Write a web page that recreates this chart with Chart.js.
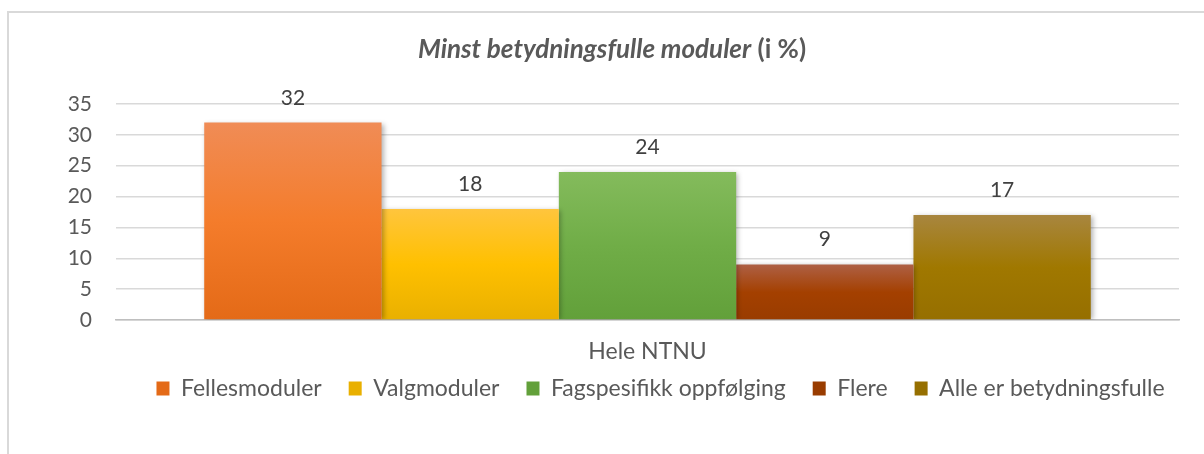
<!DOCTYPE html>
<html>
<head>
<meta charset="utf-8">
<script src="https://cdn.jsdelivr.net/npm/chart.js@4.4.1/dist/chart.umd.min.js"></script>
<style>
html, body { margin: 0; padding: 0; background: #fff; }
#frame { position: absolute; left: 7px; top: 11px; width: 1300px; height: 500px;
         border-left: 2px solid #d9d9d9; border-top: 2px solid #d9d9d9; }
#wrap { position: absolute; left: 0; top: 0; width: 1204px; height: 454px; }
</style>
</head>
<body>
<div id="frame"></div>
<div id="wrap"><canvas id="myChart" width="1204" height="454"></canvas></div>
<script>
// data
var categories = ["Hele NTNU"];
var seriesNames = ["Fellesmoduler", "Valgmoduler", "Fagspesifikk oppfølging", "Flere", "Alle er betydningsfulle"];
var seriesValues = [32, 18, 24, 9, 17];
var yTicks = [0, 5, 10, 15, 20, 25, 30, 35];

// top / middle / bottom of each bar's gradient
var barColors = [
    ['#f08c56', '#f47c2b', '#e46a17'],
    ['#ffc53d', '#ffc000', '#e9b000'],
    ['#84bb5c', '#70ad47', '#62a03a'],
    ['#ae6045', '#a44000', '#993c00'],
    ['#a8863f', '#a07800', '#966f00']
];

var textColor = '#595959';
var font = 'Lato';

function gradientFor(i) {
    return function(context) {
        var c = barColors[i];
        var chart = context.chart;
        if (!chart.chartArea || context.type !== 'data') return c[1];
        var y = chart.scales.y;
        var top = y.getPixelForValue(context.raw);
        var bottom = y.getPixelForValue(0);
        var g = chart.ctx.createLinearGradient(0, top, 0, bottom);
        g.addColorStop(0, c[0]);
        g.addColorStop(0.5, c[1]);
        g.addColorStop(1, c[2]);
        return g;
    };
}

var datasets = seriesNames.map(function(name, i) {
    return {
        label: name,
        data: [seriesValues[i]],
        backgroundColor: gradientFor(i),
        borderWidth: 0,
        categoryPercentage: 0.834,
        barPercentage: 1.0
    };
});

// title with italic first part and upright "(i %)"
var titlePlugin = {
    id: 'mixedTitle',
    afterDraw: function(chart) {
        var ctx = chart.ctx;
        var part1 = 'Minst betydningsfulle moduler';
        var part2 = ' (i %)';
        ctx.save();
        ctx.fillStyle = textColor;
        ctx.textBaseline = 'middle';
        ctx.font = 'italic bold 26px ' + font;
        var w1 = ctx.measureText(part1).width;
        ctx.font = 'bold 26px ' + font;
        var w2 = ctx.measureText(part2).width;
        var x = 612 - (w1 + w2) / 2;
        ctx.font = 'italic bold 26px ' + font;
        ctx.fillText(part1, x, 50);
        ctx.font = 'bold 26px ' + font;
        ctx.fillText(part2, x + w1, 50);
        ctx.restore();
    }
};

// soft shadow under the bars + value labels above them
var barPlugin = {
    id: 'barExtras',
    beforeDatasetsDraw: function(chart) {
        var ctx = chart.ctx;
        ctx.save();
        ctx.shadowColor = 'rgba(0,0,0,0.3)';
        ctx.shadowBlur = 5;
        ctx.shadowOffsetX = 2;
        ctx.shadowOffsetY = 1;
    },
    afterDatasetsDraw: function(chart) {
        var ctx = chart.ctx;
        ctx.restore();
        ctx.save();
        ctx.fillStyle = '#404040';
        ctx.font = '21px ' + font;
        ctx.textAlign = 'center';
        ctx.textBaseline = 'alphabetic';
        chart.data.datasets.forEach(function(ds, i) {
            var meta = chart.getDatasetMeta(i);
            meta.data.forEach(function(bar, j) {
                ctx.fillText(ds.data[j], bar.x, bar.y - 18);
            });
        });
        ctx.restore();
    }
};

// move the legend row up closer to the axis label and centre it like the original
var legendShift = {
    id: 'legendShift',
    afterLayout: function(chart) {
        var lg = chart.legend;
        var d = lg.top - 350;
        lg.top -= d;
        lg.bottom -= d;
        lg.left += 71;
        lg.right += 71;
    }
};

var ctx = document.getElementById('myChart').getContext('2d');
var myChart = new Chart(ctx, {
    type: 'bar',
    data: {
        labels: categories,
        datasets: datasets
    },
    options: {
        responsive: false,
        animation: false,
        layout: {
            padding: { top: 104, right: 25, left: 0, bottom: 28 }
        },
        plugins: {
            title: { display: false },
            tooltip: { enabled: false },
            legend: {
                position: 'bottom',
                maxHeight: 60,
                labels: {
                    color: textColor,
                    font: { family: font, size: 23 },
                    boxWidth: 13,
                    boxHeight: 14,
                    padding: 27
                }
            }
        },
        scales: {
            x: {
                afterFit: function(scale) { scale.height = 46; },
                grid: { display: false, drawTicks: false },
                border: { display: true, color: '#bfbfbf', width: 1.5 },
                ticks: { color: textColor, font: { family: font, size: 23 }, padding: 18 }
            },
            y: {
                min: 0,
                max: 35,
                afterBuildTicks: function(scale) {
                    scale.ticks = yTicks.map(function(v) { return { value: v }; });
                },
                afterFit: function(scale) { scale.width = 116; },
                grid: {
                    color: '#d9d9d9',
                    lineWidth: 1.5,
                    drawTicks: false
                },
                border: { display: false },
                ticks: { color: textColor, font: { family: font, size: 21 }, padding: 24 }
            }
        }
    },
    plugins: [titlePlugin, barPlugin, legendShift]
});
</script>
</body>
</html>
